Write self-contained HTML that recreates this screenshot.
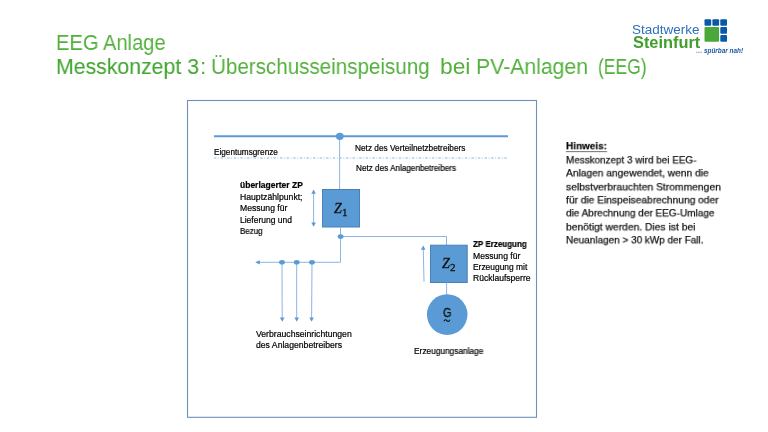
<!DOCTYPE html>
<html><head><meta charset="utf-8"><style>
html,body{margin:0;padding:0;background:#fff;}
body{width:768px;height:432px;position:relative;overflow:hidden;font-family:"Liberation Sans", sans-serif;}
.t{position:absolute;white-space:nowrap;line-height:1;will-change:transform;}
</style></head><body>
<svg width="768" height="432" viewBox="0 0 768 432" style="position:absolute;left:0;top:0">
<rect x="187.5" y="100.5" width="349" height="316.8" fill="none" stroke="#6b90ba" stroke-width="1.1"/>
<g fill="#0a58a8">
<rect x="704.5" y="19.2" width="6.7" height="6.5" rx="1"/>
<rect x="712.4" y="19.2" width="6.7" height="6.5" rx="1"/>
<rect x="720.3" y="19.2" width="6.7" height="6.5" rx="1"/>
<rect x="720.3" y="27.0" width="6.7" height="6.8" rx="1"/>
<rect x="720.3" y="34.9" width="6.7" height="6.8" rx="1"/>
</g>
<rect x="704.5" y="27.0" width="14.6" height="14.7" rx="1" fill="#4aa83a"/>
<line x1="696.3" y1="52.3" x2="701.7" y2="52.3" stroke="#2e6fba" stroke-width="0.8" stroke-dasharray="1.2 0.9"/>
<line x1="214" y1="136.2" x2="508" y2="136.2" stroke="#5b9bd5" stroke-width="2"/>
<line x1="214" y1="158" x2="507" y2="158" stroke="#86b5e2" stroke-width="1" stroke-dasharray="2.4 1.7 0.8 1.7"/>
<line x1="339.6" y1="136" x2="339.6" y2="189" stroke="#8db4e2" stroke-width="1"/>
<ellipse cx="339.8" cy="136.3" rx="3.9" ry="3.6" fill="#5b9bd5"/>
<rect x="322.5" y="189.5" width="37" height="37.5" fill="#5b9bd5" stroke="#4a80b8" stroke-width="1"/>
<line x1="313.6" y1="192" x2="313.6" y2="224" stroke="#8db4e2" stroke-width="1"/>
<path d="M313.6 189.5 L311.3 193.8 L315.9 193.8 Z" fill="#5b9bd5"/>
<path d="M313.6 226.7 L311.3 222.4 L315.9 222.4 Z" fill="#5b9bd5"/>
<line x1="340.5" y1="227" x2="340.5" y2="262.3" stroke="#8db4e2" stroke-width="1"/>
<polyline points="340.5,236.5 446.5,236.5 446.5,245" fill="none" stroke="#8db4e2" stroke-width="1"/>
<line x1="340.5" y1="262.3" x2="259" y2="262.3" stroke="#8db4e2" stroke-width="1"/>
<path d="M255.2 262.3 L259.8 260.2 L259.8 264.4 Z" fill="#5b9bd5"/>
<ellipse cx="340.6" cy="236.5" rx="2.9" ry="2.3" fill="#5b9bd5"/>
<g stroke="#8db4e2" stroke-width="1">
<line x1="282" y1="262.3" x2="282.2" y2="318"/>
<line x1="296.7" y1="262.3" x2="296.7" y2="318"/>
<line x1="312" y1="262.3" x2="311.6" y2="318"/>
</g>
<g fill="#5b9bd5">
<ellipse cx="282" cy="262.3" rx="2.9" ry="2.3"/>
<ellipse cx="296.7" cy="262.3" rx="2.9" ry="2.3"/>
<ellipse cx="312" cy="262.3" rx="2.9" ry="2.3"/>
<path d="M282.2 321.8 L279.9 317.5 L284.5 317.5 Z"/>
<path d="M296.7 321.8 L294.4 317.5 L299.0 317.5 Z"/>
<path d="M311.6 321.8 L309.3 317.5 L313.9 317.5 Z"/>
</g>
<rect x="430.5" y="245.2" width="36.7" height="37.3" fill="#5b9bd5" stroke="#4a80b8" stroke-width="1"/>
<line x1="424" y1="281.7" x2="423.3" y2="249" stroke="#8db4e2" stroke-width="1"/>
<path d="M423.2 245.4 L420.9 249.7 L425.5 249.7 Z" fill="#5b9bd5"/>
<line x1="446.6" y1="282.5" x2="446.6" y2="295" stroke="#8db4e2" stroke-width="1"/>
<circle cx="447.2" cy="314.6" r="20.3" fill="#5b9bd5"/>
<path d="M443.9 321.2 q1.5 -2.6 3 -0.6 t3 -0.8" fill="none" stroke="#111" stroke-width="1.1"/>
</svg>

<div class="t" style="left:55.99px;top:31.00px;font-size:22.8px;font-weight:normal;color:#52b03c;font-family:'Liberation Sans', sans-serif;transform:scaleX(0.8826);transform-origin:0 0;">EEG Anlage</div>
<div class="t" style="left:55.90px;top:55.00px;font-size:22.8px;font-weight:normal;color:#42a630;font-family:'Liberation Sans', sans-serif;-webkit-text-stroke:0.1px #42a630;transform:scaleX(0.9324);transform-origin:0 0;">Messkonzept 3</div>
<div class="t" style="left:200.00px;top:55.00px;font-size:22.8px;font-weight:normal;color:#52b03c;font-family:'Liberation Sans', sans-serif;">:</div>
<div class="t" style="left:210.95px;top:55.00px;font-size:22.8px;font-weight:normal;color:#52b03c;font-family:'Liberation Sans', sans-serif;transform:scaleX(0.9035);transform-origin:0 0;">Überschusseinspeisung</div>
<div class="t" style="left:439.88px;top:55.00px;font-size:22.8px;font-weight:normal;color:#52b03c;font-family:'Liberation Sans', sans-serif;transform:scaleX(0.9974);transform-origin:0 0;">bei</div>
<div class="t" style="left:476.00px;top:55.00px;font-size:22.8px;font-weight:normal;color:#52b03c;font-family:'Liberation Sans', sans-serif;transform:scaleX(0.9304);transform-origin:0 0;">PV-Anlagen</div>
<div class="t" style="left:597.90px;top:55.00px;font-size:22.8px;font-weight:normal;color:#52b03c;font-family:'Liberation Sans', sans-serif;transform:scaleX(0.7672);transform-origin:0 0;">(EEG)</div>
<div class="t" style="left:632.30px;top:24.00px;font-size:12.9px;font-weight:normal;color:#2e6fba;font-family:'Liberation Sans', sans-serif;transform:scaleX(1.0460);transform-origin:0 0;">Stadtwerke</div>
<div class="t" style="left:633.30px;top:35.00px;font-size:15.6px;font-weight:bold;color:#3f9e2c;font-family:'Liberation Sans', sans-serif;transform:scaleX(1.0494);transform-origin:0 0;">Steinfurt</div>
<div class="t" style="left:704.00px;top:48.00px;font-size:6.4px;font-weight:bold;color:#1d58a5;font-family:'Liberation Sans', sans-serif;font-style:italic;">spürbar nah!</div>
<div class="t" style="left:214.00px;top:149.00px;font-size:8.2px;font-weight:normal;color:#000000;font-family:'Liberation Sans', sans-serif;transform:scaleX(1.0029);transform-origin:0 0;-webkit-text-stroke:0.2px #000000;">Eigentumsgrenze</div>
<div class="t" style="left:355.00px;top:145.00px;font-size:8.2px;font-weight:normal;color:#000000;font-family:'Liberation Sans', sans-serif;transform:scaleX(1.0110);transform-origin:0 0;-webkit-text-stroke:0.2px #000000;">Netz des Verteilnetzbetreibers</div>
<div class="t" style="left:355.80px;top:165.00px;font-size:8.2px;font-weight:normal;color:#000000;font-family:'Liberation Sans', sans-serif;transform:scaleX(0.9946);transform-origin:0 0;-webkit-text-stroke:0.2px #000000;">Netz des Anlagenbetreibers</div>
<div class="t" style="left:240.30px;top:181.00px;font-size:8.4px;font-weight:bold;color:#000000;font-family:'Liberation Sans', sans-serif;transform:scaleX(1.0147);transform-origin:0 0;-webkit-text-stroke:0.2px #000000;">überlagerter ZP</div>
<div class="t" style="left:240.30px;top:193.00px;font-size:8.4px;font-weight:normal;color:#000000;font-family:'Liberation Sans', sans-serif;transform:scaleX(1.0328);transform-origin:0 0;-webkit-text-stroke:0.2px #000000;">Hauptzählpunkt;</div>
<div class="t" style="left:240.30px;top:204.00px;font-size:8.4px;font-weight:normal;color:#000000;font-family:'Liberation Sans', sans-serif;transform:scaleX(1.0277);transform-origin:0 0;-webkit-text-stroke:0.2px #000000;">Messung für</div>
<div class="t" style="left:240.30px;top:216.00px;font-size:8.4px;font-weight:normal;color:#000000;font-family:'Liberation Sans', sans-serif;transform:scaleX(1.0160);transform-origin:0 0;-webkit-text-stroke:0.2px #000000;">Lieferung und</div>
<div class="t" style="left:240.30px;top:227.00px;font-size:8.4px;font-weight:normal;color:#000000;font-family:'Liberation Sans', sans-serif;transform:scaleX(0.9489);transform-origin:0 0;-webkit-text-stroke:0.2px #000000;">Bezug</div>
<div class="t" style="left:256.00px;top:330.00px;font-size:8.4px;font-weight:normal;color:#000000;font-family:'Liberation Sans', sans-serif;transform:scaleX(1.0330);transform-origin:0 0;-webkit-text-stroke:0.2px #000000;">Verbrauchseinrichtungen</div>
<div class="t" style="left:256.00px;top:341.00px;font-size:8.4px;font-weight:normal;color:#000000;font-family:'Liberation Sans', sans-serif;transform:scaleX(1.0324);transform-origin:0 0;-webkit-text-stroke:0.2px #000000;">des Anlagenbetreibers</div>
<div class="t" style="left:414.00px;top:347.00px;font-size:8.4px;font-weight:normal;color:#000000;font-family:'Liberation Sans', sans-serif;transform:scaleX(0.9921);transform-origin:0 0;-webkit-text-stroke:0.2px #000000;">Erzeugungsanlage</div>
<div class="t" style="left:473.30px;top:240.00px;font-size:8.4px;font-weight:bold;color:#000000;font-family:'Liberation Sans', sans-serif;transform:scaleX(0.9571);transform-origin:0 0;-webkit-text-stroke:0.2px #000000;">ZP Erzeugung</div>
<div class="t" style="left:473.30px;top:252.00px;font-size:8.4px;font-weight:normal;color:#000000;font-family:'Liberation Sans', sans-serif;transform:scaleX(1.0277);transform-origin:0 0;-webkit-text-stroke:0.2px #000000;">Messung für</div>
<div class="t" style="left:473.30px;top:263.00px;font-size:8.4px;font-weight:normal;color:#000000;font-family:'Liberation Sans', sans-serif;transform:scaleX(1.0044);transform-origin:0 0;-webkit-text-stroke:0.2px #000000;">Erzeugung mit</div>
<div class="t" style="left:473.30px;top:274.00px;font-size:8.4px;font-weight:normal;color:#000000;font-family:'Liberation Sans', sans-serif;transform:scaleX(1.0214);transform-origin:0 0;-webkit-text-stroke:0.2px #000000;">Rücklaufsperre</div>
<div class="t" style="left:566.25px;top:142.14px;font-size:10.4px;font-weight:bold;color:#000000;font-family:'Liberation Sans', sans-serif;transform:scale(0.9588,0.92);transform-origin:0 0;-webkit-text-stroke:0.2px #000000;text-decoration:underline;text-decoration-thickness:1px;text-underline-offset:1.6px;text-decoration-color:#666;">Hinweis:</div>
<div class="t" style="left:566.25px;top:155.84px;font-size:10.4px;font-weight:normal;color:#111111;font-family:'Liberation Sans', sans-serif;transform:scale(0.9526,0.92);transform-origin:0 0;-webkit-text-stroke:0.25px #111111;">Messkonzept 3 wird bei EEG-</div>
<div class="t" style="left:566.25px;top:169.19px;font-size:10.4px;font-weight:normal;color:#111111;font-family:'Liberation Sans', sans-serif;transform:scale(0.9832,0.92);transform-origin:0 0;-webkit-text-stroke:0.25px #111111;">Anlagen angewendet, wenn die</div>
<div class="t" style="left:566.25px;top:182.54px;font-size:10.4px;font-weight:normal;color:#111111;font-family:'Liberation Sans', sans-serif;transform:scale(0.9931,0.92);transform-origin:0 0;-webkit-text-stroke:0.25px #111111;">selbstverbrauchten Strommengen</div>
<div class="t" style="left:566.25px;top:195.89px;font-size:10.4px;font-weight:normal;color:#111111;font-family:'Liberation Sans', sans-serif;transform:scale(0.9818,0.92);transform-origin:0 0;-webkit-text-stroke:0.25px #111111;">für die Einspeiseabrechnung oder</div>
<div class="t" style="left:566.25px;top:209.24px;font-size:10.4px;font-weight:normal;color:#111111;font-family:'Liberation Sans', sans-serif;transform:scale(0.9621,0.92);transform-origin:0 0;-webkit-text-stroke:0.25px #111111;">die Abrechnung der EEG-Umlage</div>
<div class="t" style="left:566.25px;top:222.59px;font-size:10.4px;font-weight:normal;color:#111111;font-family:'Liberation Sans', sans-serif;transform:scale(0.9912,0.92);transform-origin:0 0;-webkit-text-stroke:0.25px #111111;">benötigt werden. Dies ist bei</div>
<div class="t" style="left:566.25px;top:235.94px;font-size:10.4px;font-weight:normal;color:#111111;font-family:'Liberation Sans', sans-serif;transform:scale(0.9578,0.92);transform-origin:0 0;-webkit-text-stroke:0.25px #111111;">Neuanlagen &gt; 30 kWp der Fall.</div>
<div class="t" style="left:334.20px;top:202.00px;font-size:14.0px;font-weight:normal;color:#111;font-family:'Liberation Serif', serif;-webkit-text-stroke:0.3px #111;font-style:italic;">Z</div>
<div class="t" style="left:342.30px;top:207.00px;font-size:11.0px;font-weight:normal;color:#111;font-family:'Liberation Serif', serif;-webkit-text-stroke:0.3px #111;">1</div>
<div class="t" style="left:441.80px;top:257.00px;font-size:14.0px;font-weight:normal;color:#111;font-family:'Liberation Serif', serif;-webkit-text-stroke:0.3px #111;font-style:italic;">Z</div>
<div class="t" style="left:449.60px;top:262.00px;font-size:11.0px;font-weight:normal;color:#111;font-family:'Liberation Serif', serif;-webkit-text-stroke:0.3px #111;">2</div>
<div class="t" style="left:442.50px;top:306.00px;font-size:13.2px;font-weight:normal;color:#111;font-family:'Liberation Sans', sans-serif;-webkit-text-stroke:0.35px #111;transform:scaleX(0.82);transform-origin:0 0;">G</div>

</body></html>
